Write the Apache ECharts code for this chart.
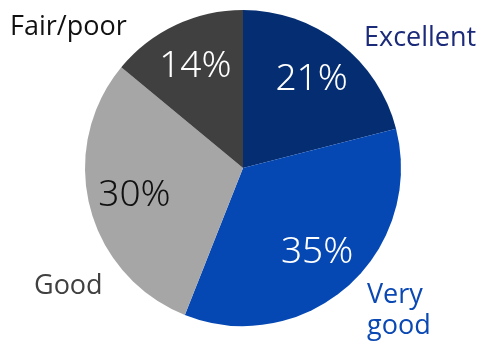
<!DOCTYPE html>
<html>
<head>
<meta charset="utf-8">
<script src="https://cdn.jsdelivr.net/npm/echarts@6/dist/echarts.min.js"></script>
<style>
  html, body { margin: 0; padding: 0; background: #ffffff; }
  #chart { width: 483px; height: 343px; }
</style>
</head>
<body>
<div id="chart"></div>
<script>
// Share of ratings, clockwise from 12 o'clock
const categories = ['Excellent', 'Very good', 'Good', 'Fair/poor'];
const shares = [21, 35, 30, 14];
const sliceColors = ['#042d72', '#0548b4', '#a6a6a6', '#404040'];
const valueLabelColors = ['#ffffff', '#ffffff', '#111111', '#ffffff'];
const nameLabelColors = ['#1c2a7a', '#0a48b4', '#404040', '#111111'];
const nameLabelText = ['Excellent', 'Very\ngood', 'Good', 'Fair/poor'];

// Where each category name sits (text anchor points)
const nameAnchors = [
  { x: 364, y: 38, align: 'left' },
  { x: 367, y: 311, align: 'left' },
  { x: 34, y: 286, align: 'left' },
  { x: 10, y: 27, align: 'left' }
];

const VALUE_FONT = '"Noto Sans", "Open Sans", sans-serif';
const NAME_FONT = '"Open Sans", "Noto Sans", sans-serif';
const CENTER = [243, 168];

const pieData = categories.map((name, i) => ({
  name: name,
  value: shares[i],
  itemStyle: { color: sliceColors[i] }
}));

const chart = echarts.init(document.getElementById('chart'), null, { renderer: 'canvas' });

chart.setOption({
  animation: false,
  series: [
    {
      // Filled slices
      type: 'pie',
      center: CENTER,
      radius: [0, 158],
      startAngle: 90,
      clockwise: true,
      silent: true,
      label: { show: false },
      labelLine: { show: false },
      data: pieData
    },
    {
      // Percentage labels inside slices (ring midpoint ~109px from centre)
      type: 'pie',
      center: CENTER,
      radius: [0, 218],
      startAngle: 90,
      clockwise: true,
      silent: true,
      itemStyle: { color: 'rgba(0,0,0,0)' },
      labelLine: { show: false },
      label: {
        show: true,
        position: 'inside',
        fontFamily: VALUE_FONT,
        fontWeight: 300,
        fontSize: 37,
        formatter: (p) => p.value + '%',
        color: '#ffffff'
      },
      data: categories.map((name, i) => ({
        name: name,
        value: shares[i],
        label: { color: valueLabelColors[i] }
      }))
    },
    {
      // Category names outside the pie
      type: 'pie',
      center: CENTER,
      radius: [0, 158],
      startAngle: 90,
      clockwise: true,
      silent: true,
      itemStyle: { color: 'rgba(0,0,0,0)' },
      labelLine: { show: false },
      label: {
        show: true,
        position: 'outside',
        fontFamily: NAME_FONT,
        fontSize: 27,
        lineHeight: 31,
        overflow: 'none',
        formatter: (p) => nameLabelText[p.dataIndex]
      },
      labelLayout: (params) => {
        const a = nameAnchors[params.dataIndex];
        return { x: a.x, y: a.y, align: a.align, verticalAlign: 'middle', hideOverlap: false };
      },
      data: categories.map((name, i) => ({
        name: name,
        value: shares[i],
        label: { color: nameLabelColors[i] }
      }))
    }
  ]
});
</script>
</body>
</html>
